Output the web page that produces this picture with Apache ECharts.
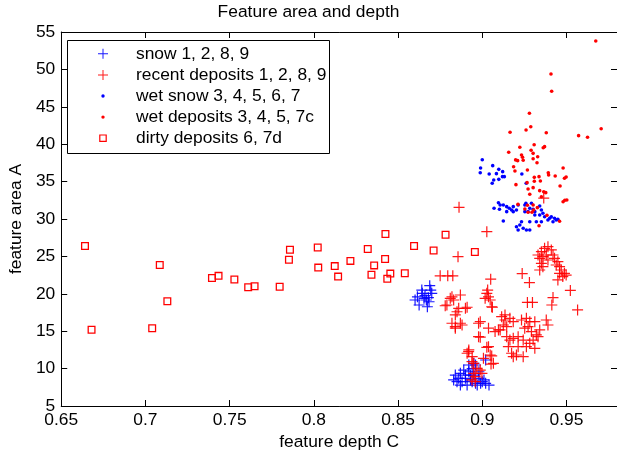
<!DOCTYPE html>
<html>
<head>
<meta charset="utf-8">
<script src="https://cdn.jsdelivr.net/npm/echarts@6/dist/echarts.min.js"></script>
<style>html,body{margin:0;padding:0;background:#fff}#c{width:617px;height:457px}</style>
</head>
<body>
<div id="c"></div>
<script>
// ---- data (feature depth C, feature area A) ----
const seriesNames = ['snow 1, 2, 8, 9', 'recent deposits 1, 2, 8, 9', 'wet snow 3, 4, 5, 6, 7', 'wet deposits 3, 4, 5, 7c', 'dirty deposits 6, 7d'];

const snowPlus = [
  [0.8688,21.08],[0.8694,20.5],[0.870,20.07],[0.8641,20.5],[0.8615,19.6],[0.8654,19.4],[0.8668,19.17],
  [0.868,19.48],[0.8625,18.5],[0.8674,18.27],[0.8684,18.94],[0.8644,20.07],[0.866,19.75],[0.8601,19.17],
  [0.884,9.14],[0.883,8.48],[0.886,8.7],[0.888,8.25],[0.890,9.14],[0.892,9.58],[0.894,10.0],[0.896,10.48],
  [0.898,9.58],[0.900,8.25],[0.902,8.03],[0.904,7.8],[0.896,8.03],[0.893,8.48],[0.891,7.8],[0.887,7.8],
  [0.885,8.25],[0.889,9.8],[0.895,9.14],[0.898,8.7],[0.901,8.48],[0.902,11.15],[0.892,10.48],[0.890,8.7],
  [0.897,7.8],[0.899,8.03],[0.894,8.25],[0.887,9.37],[0.893,9.14],[0.895,10.7]
];

const recentPlus = [
  [0.8862,31.56],[0.9027,28.3],[0.8856,24.96],[0.875,22.4],[0.8795,22.4],[0.8825,22.4],[0.905,21.95],
  [0.9237,22.7],[0.928,21.5],[0.9268,18.85],[0.9298,18.85],[0.942,19.5],[0.9413,18.5],[0.9523,20.45],
  [0.9566,17.85],[0.9365,32.8],
  [0.882,19.6],[0.883,19.17],[0.881,19.4],[0.887,19.84],[0.879,18.5],[0.878,18.4],[0.886,18.06],[0.885,17.6],
  [0.891,18.2],[0.890,18.06],[0.884,17.17],[0.882,16.06],[0.887,16.06],[0.884,15.6],[0.888,15.83],[0.884,15.4],
  [0.9027,20.07],[0.9037,19.6],[0.9017,19.4],[0.9047,19.17],[0.9056,18.27],[0.9032,20.5],[0.906,18.2],
  [0.8978,16.06],[0.9037,15.4],
  [0.8988,14.2],[0.9027,12.85],[0.9056,11.7],[0.9052,10.6],[0.9007,11.38],[0.892,12.5],[0.891,12.05],
  [0.894,11.6],[0.8949,10.7],[0.8958,8.92],[0.8939,8.48],[0.8968,10.04],[0.8949,9.37],[0.8919,12.26],
  [0.8939,10.93],[0.8988,9.8],[0.8998,9.37],[0.8958,8.25],[0.9037,12.93],[0.9047,11.82],[0.9066,10.7],
  [0.8988,16.27],[0.8978,14.27],[0.9076,14.95],[0.9096,15.17],[0.9115,16.94],[0.9135,16.5],[0.9145,15.6],
  [0.9135,17.17],[0.9164,16.72],[0.9184,16.27],[0.9125,15.83],[0.9106,15.17],[0.9145,14.27],[0.9164,13.82],
  [0.9184,14.05],[0.9155,12.93],[0.9174,12.05],[0.9203,11.82],[0.9243,11.6],[0.9233,16.5],[0.9262,16.72],
  [0.9282,16.27],[0.9312,16.27],[0.9252,15.4],[0.9272,15.6],[0.9292,14.95],[0.9321,14.5],[0.9341,15.17],
  [0.9302,13.82],[0.9282,13.38],[0.9262,12.93],[0.9243,13.82],[0.9213,14.27],[0.9312,12.71],[0.9331,14.27],
  [0.938,16.5],[0.939,15.83],[0.9213,12.93],[0.9184,11.6],
  [0.9331,25.19],[0.9351,25.63],[0.937,26.08],[0.939,26.3],[0.941,25.86],[0.9341,24.74],[0.936,24.96],
  [0.938,25.19],[0.942,25.19],[0.9351,24.07],[0.9341,23.18],[0.936,23.62],[0.9449,24.3],[0.9459,23.62],
  [0.9469,23.18],[0.9488,22.74],[0.9478,22.3],[0.9498,22.5],[0.9449,21.85],[0.9459,22.74],[0.9439,23.85],
  [0.939,24.52],[0.9429,24.74]
];

const wetSnowDots = [
  [0.900,37.93],[0.899,36.82],[0.8988,36.19],[0.9041,36.01],[0.9062,37.13],[0.9084,36.06],[0.9098,36.64],
  [0.9121,36.33],[0.9131,35.66],[0.9068,35.21],[0.9059,34.77],[0.9098,35.3],[0.912,35.66],[0.9235,36.01],
  [0.9261,34.77],
  [0.9096,32.18],[0.9106,31.87],[0.907,31.43],[0.9102,31.3],[0.9125,31.87],[0.9145,31.65],[0.916,31.43],
  [0.9174,31.2],[0.9184,30.98],[0.9203,31.2],[0.9213,31.87],[0.9253,31.87],[0.9259,32.1],[0.9282,31.43],
  [0.9302,31.3],[0.9312,30.98],[0.9341,31.74],[0.9351,31.2],[0.936,30.76],[0.9145,30.98],[0.9253,30.98],
  [0.9272,30.98],[0.9312,30.53],[0.9341,30.53],[0.937,30.3],[0.939,29.87],[0.940,30.1],[0.941,30.3],
  [0.9429,30.1],[0.9439,29.87],[0.9449,29.96],[0.942,29.64],[0.9351,29.64],[0.9321,29.64],[0.9282,29.64],
  [0.9233,29.64],[0.9223,29.2],[0.9203,28.97],[0.9213,28.53],[0.9243,28.76],[0.9262,28.53],[0.9282,28.53],
  [0.9125,29.73],[0.9292,32.1],[0.9184,31.65]
];

const wetDepositDots = [
  [0.9674,53.8],[0.9408,49.39],[0.9412,47.07],[0.928,44.13],[0.9288,42.34],[0.926,41.9],[0.9165,41.59],
  [0.938,41.54],[0.9572,41.14],[0.9625,40.92],[0.9706,42.07],[0.9223,39.59],[0.9308,39.93],[0.937,39.67],
  [0.9362,39.53],[0.9157,38.92],[0.929,39.19],[0.9233,38.56],[0.9239,38.25],[0.9302,38.78],[0.9329,38.33],
  [0.9198,37.9],[0.921,37.8],[0.9243,37.85],[0.9302,38.06],[0.9325,37.53],[0.9186,36.99],[0.9268,36.55],
  [0.9194,36.42],[0.948,36.82],[0.9392,36.19],[0.9394,35.88],[0.9433,35.75],[0.9498,35.61],[0.9488,35.44],
  [0.9309,35.57],[0.9337,35.66],[0.9345,35.08],[0.9309,35.04],[0.920,34.59],[0.9266,34.86],[0.9462,34.41],
  [0.9302,34.19],[0.9272,34.01],[0.9341,33.79],[0.9365,33.65],[0.9377,33.52],[0.9282,33.3],[0.9351,32.98],
  [0.948,32.31],[0.949,32.5],[0.9502,32.54],[0.9212,31.96],[0.9268,31.83],[0.9302,31.87],[0.9253,31.34],
  [0.9305,31.2],[0.9295,30.9],[0.9327,31.52],[0.9384,30.49],[0.9459,29.69],[0.9337,29.1],[0.9272,30.9]
];

const dirtySquares = [
  [0.6641,26.4],[0.668,15.2],[0.704,15.4],[0.7085,23.85],[0.713,19.0],[0.7395,22.1],[0.7434,22.4],
  [0.7528,21.9],[0.761,20.87],[0.7648,21.0],[0.7797,20.95],[0.7858,25.9],[0.7852,24.56],[0.8023,26.2],
  [0.8026,23.5],[0.8124,23.7],[0.8144,22.3],[0.8217,24.4],[0.832,26.0],[0.8358,23.8],[0.8423,24.65],
  [0.8425,28.0],[0.8342,22.55],[0.8454,22.7],[0.8436,22.0],[0.854,22.74],[0.8595,26.4],[0.8711,25.8],
  [0.8782,27.9],[0.8956,25.6]
];

// ---- styling ----
const FONT = 'Liberation Sans, Arial, Helvetica, sans-serif';
const FS = 17.4;
const BLUE = '#0000ff', RED = '#ff0000';
const PLUS = 'path://M4.9,0H6.1V11H4.9Z M0,4.9H11V6.1H0Z';
const SQUARE = 'path://M0,0H10V10H0Z M1.6,1.6V8.4H8.4V1.6Z';
const L_PLUS = 'path://M0,0M11,11M5,0.5H6V10.5H5Z M0.5,5H10.5V6H0.5Z';
const L_DOT = 'path://M0,0M11,11M5.5,3.8A1.7,1.7,0,1,1,5.5,7.2A1.7,1.7,0,1,1,5.5,3.8Z';
const L_SQ = 'path://M0,0M11,11M1.7,1.7H9.3V9.3H1.7Z M2.9,2.9V8.1H8.1V2.9Z';

const xFmt = v => { const k = Math.round(v * 20); return Math.abs(k - v * 20) < 1e-6 ? String(parseFloat((k / 20).toFixed(2))) : ''; };

const axisCommon = {
  axisLine: { show: true, lineStyle: { color: '#000', width: 1 } },
  axisTick: { show: true, inside: true, length: 6, lineStyle: { color: '#000' } },
  splitLine: { show: false },
};

const chart = echarts.init(document.getElementById('c'), null, { renderer: 'canvas' });
chart.setOption({
  animation: false,
  backgroundColor: '#fff',
  title: {
    text: 'Feature area and depth', left: 'center', top: 4, padding: 0,
    textStyle: { fontFamily: FONT, fontSize: FS, fontWeight: 'normal', color: '#000' }
  },
  grid: { left: 59, top: 32, right: -3, bottom: 51 },
  xAxis: [
    Object.assign({
      type: 'value', min: 0.65, max: 0.98, interval: 0.05, position: 'bottom',
      axisLabel: { color: '#000', fontFamily: FONT, fontSize: FS, margin: 6, formatter: xFmt, showMaxLabel: false },
      name: 'feature depth C', nameLocation: 'middle', nameGap: 28,
      nameTextStyle: { color: '#000', fontFamily: FONT, fontSize: FS }
    }, axisCommon),
    Object.assign({
      type: 'value', min: 0.65, max: 0.98, interval: 0.05, position: 'top',
      axisLabel: { show: false }
    }, axisCommon)
  ],
  yAxis: [
    Object.assign({
      type: 'value', min: 5, max: 55, interval: 5, position: 'left',
      axisLabel: { color: '#000', fontFamily: FONT, fontSize: FS, margin: 6 },
      name: 'feature area A', nameLocation: 'middle', nameGap: 34, nameRotate: 90,
      nameTextStyle: { color: '#000', fontFamily: FONT, fontSize: FS }
    }, axisCommon),
    Object.assign({
      type: 'value', min: 5, max: 55, interval: 5, position: 'right',
      axisLabel: { show: false }
    }, axisCommon)
  ],
  legend: {
    orient: 'vertical', left: 97.5, top: 45.3, padding: 0, itemGap: 4.1,
    itemWidth: 11, itemHeight: 11, z: 10, selectedMode: false,
    textStyle: { color: '#000', fontFamily: FONT, fontSize: FS, padding: [0, 0, 0, 22.5] },
    data: [
      { name: seriesNames[0], icon: L_PLUS },
      { name: seriesNames[1], icon: L_PLUS },
      { name: seriesNames[2], icon: L_DOT },
      { name: seriesNames[3], icon: L_DOT },
      { name: seriesNames[4], icon: L_SQ }
    ]
  },
  graphic: [{
    type: 'rect', z: 8, shape: { x: 67.5, y: 40.5, width: 262, height: 113 },
    style: { fill: '#fff', stroke: '#000', lineWidth: 1 }
  }],
  series: [
    { name: seriesNames[0], type: 'scatter', data: snowPlus, symbol: PLUS, symbolSize: 11,
      itemStyle: { color: BLUE, opacity: 0.9 }, silent: true },
    { name: seriesNames[1], type: 'scatter', data: recentPlus, symbol: PLUS, symbolSize: 11,
      itemStyle: { color: RED, opacity: 0.9 }, silent: true },
    { name: seriesNames[2], type: 'scatter', data: wetSnowDots, symbol: 'circle', symbolSize: 3.6,
      itemStyle: { color: BLUE, opacity: 1 }, silent: true },
    { name: seriesNames[3], type: 'scatter', data: wetDepositDots, symbol: 'circle', symbolSize: 3.6,
      itemStyle: { color: RED, opacity: 1 }, silent: true },
    { name: seriesNames[4], type: 'scatter', data: dirtySquares, symbol: SQUARE, symbolSize: 8,
      itemStyle: { color: RED, opacity: 1 }, silent: true }
  ]
});
</script>
</body>
</html>
